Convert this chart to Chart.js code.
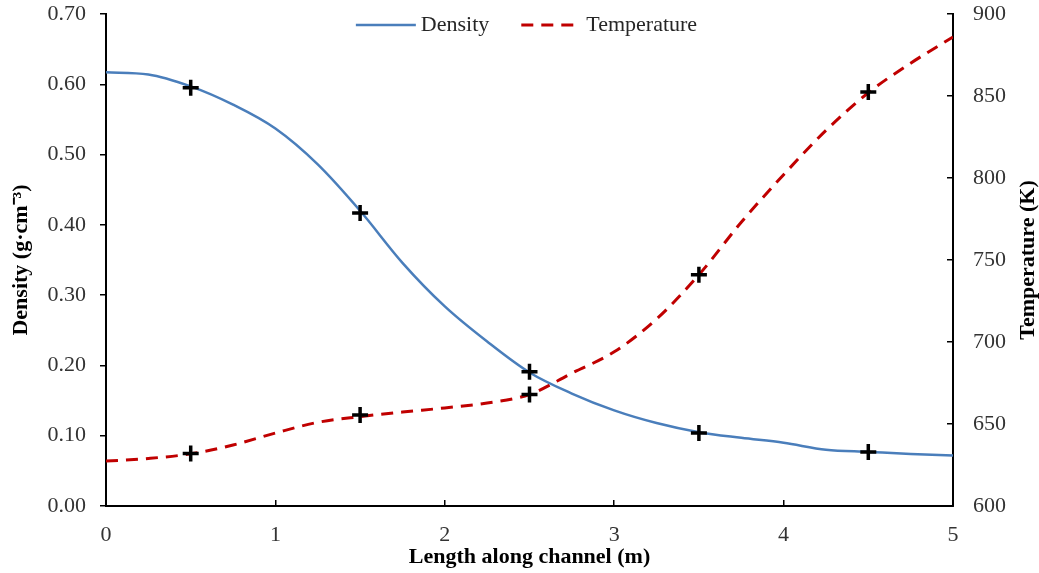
<!DOCTYPE html>
<html>
<head>
<meta charset="utf-8">
<script src="https://cdn.jsdelivr.net/npm/chart.js@4.4.1/dist/chart.umd.min.js"></script>
<style>
  html, body { margin: 0; padding: 0; background: #fff; }
  #wrap { width: 1039px; height: 573px; position: relative; }
</style>
</head>
<body>
<div id="wrap"><canvas id="graph"></canvas></div>
<script>
// curve samples along the channel (m)
const positions = [0, 0.25, 0.5, 0.75, 1, 1.25, 1.5, 1.75, 2, 2.25, 2.5,
                   2.75, 3, 3.25, 3.5, 3.75, 4, 4.25, 4.5, 4.75, 5];
const density = [0.617, 0.614, 0.597, 0.571, 0.537, 0.486, 0.420, 0.346, 0.284, 0.234, 0.190,
                 0.160, 0.136, 0.118, 0.105, 0.097, 0.090, 0.080, 0.077, 0.074, 0.072];
const temperature = [627.4, 629, 631.8, 637.2, 644.5, 651, 654.5, 657.3, 659.8, 662.8, 668,
                     681, 694, 714, 741, 773, 802, 829, 852, 870, 886];

// measured points (plus markers)
const markerX = [0.5, 1.5, 2.5, 3.5, 4.5];
const densityMarkers = [0.595, 0.417, 0.191, 0.104, 0.077];
const temperatureMarkers = [632, 655.5, 668, 741, 852.5];

const xTicks = [0, 1, 2, 3, 4, 5];
const densityTicks = [0, 0.1, 0.2, 0.3, 0.4, 0.5, 0.6, 0.7];
const temperatureTicks = [600, 650, 700, 750, 800, 850, 900];

const xTitle = 'Length along channel (m)';
const densityTitle = 'Density (g·cm⁻³)';
const temperatureTitle = 'Temperature (K)';

const FONT = "'Liberation Serif', 'Times New Roman', serif";
Chart.defaults.font.family = FONT;
Chart.defaults.font.size = 22;
Chart.defaults.color = '#333';

const toPoints = (xs, ys) => xs.map((x, i) => ({ x: x, y: ys[i] }));

// legend drawn inside the plot, lines + labels like the original
const lineLegend = {
    id: 'lineLegend',
    afterDraw(chart) {
        const ctx = chart.ctx;
        const area = chart.chartArea;
        const items = chart.data.datasets.filter(d => d.inLegend);
        const lineLen = 60, gap = 5, spacing = 32, y = area.top + 11;
        ctx.save();
        ctx.font = '22px ' + FONT;
        const widths = items.map(d => lineLen + gap + ctx.measureText(d.label).width);
        const total = widths.reduce((a, b) => a + b, 0) + spacing * (items.length - 1);
        let x = (area.left + area.right) / 2 - total / 2 - 3;
        items.forEach((d, i) => {
            ctx.beginPath();
            ctx.strokeStyle = d.borderColor;
            ctx.lineWidth = d.borderWidth;
            ctx.setLineDash(d.borderDash || []);
            ctx.moveTo(x, y);
            ctx.lineTo(x + lineLen, y);
            ctx.stroke();
            ctx.setLineDash([]);
            ctx.fillStyle = '#262626';
            ctx.textBaseline = 'middle';
            ctx.textAlign = 'left';
            ctx.fillText(d.label, x + lineLen + gap, y);
            x += widths[i] + spacing;
        });
        ctx.restore();
    }
};

// right axis title reads bottom-to-top, as on the left
const rightTitle = {
    id: 'rightTitle',
    afterDraw(chart) {
        const s = chart.scales.y2;
        const ctx = chart.ctx;
        ctx.save();
        ctx.translate(s.right - 11, (s.top + s.bottom) / 2);
        ctx.rotate(-Math.PI / 2);
        ctx.font = 'bold 22px ' + FONT;
        ctx.fillStyle = '#000';
        ctx.textAlign = 'center';
        ctx.textBaseline = 'middle';
        ctx.fillText(temperatureTitle, 0, 0);
        ctx.restore();
    }
};

const setTicks = (list) => (scale) => { scale.ticks = list.map(v => ({ value: v })); };
const fitWidth = (w) => (s) => { s.width = w; s.paddingTop = 0; s.paddingBottom = 0; };

const config = {
    type: 'scatter',
    data: {
        datasets: [
            {
                label: 'Density points',
                data: toPoints(markerX, densityMarkers),
                yAxisID: 'y',
                showLine: false,
                pointStyle: 'cross',
                pointRadius: 8,
                pointBorderWidth: 3.5,
                borderColor: '#000',
                backgroundColor: '#000',
                order: 0
            },
            {
                label: 'Temperature points',
                data: toPoints(markerX, temperatureMarkers),
                yAxisID: 'y2',
                showLine: false,
                pointStyle: 'cross',
                pointRadius: 8,
                pointBorderWidth: 3.5,
                borderColor: '#000',
                backgroundColor: '#000',
                order: 0
            },
            {
                label: 'Density',
                inLegend: true,
                data: toPoints(positions, density),
                yAxisID: 'y',
                showLine: true,
                borderColor: '#4a7ebb',
                borderWidth: 2.5,
                pointRadius: 0,
                cubicInterpolationMode: 'monotone',
                order: 1
            },
            {
                label: 'Temperature',
                inLegend: true,
                data: toPoints(positions, temperature),
                yAxisID: 'y2',
                showLine: true,
                borderColor: '#c00000',
                borderWidth: 3,
                borderDash: [12, 8],
                pointRadius: 0,
                cubicInterpolationMode: 'monotone',
                order: 1
            }
        ]
    },
    options: {
        responsive: true,
        maintainAspectRatio: false,
        animation: false,
        layout: { padding: { top: 14, left: 0, right: 0, bottom: 0 } },
        plugins: {
            legend: { display: false },
            tooltip: { enabled: false }
        },
        scales: {
            x: {
                type: 'linear',
                min: 0,
                max: 5,
                afterBuildTicks: setTicks(xTicks),
                afterFit: (s) => { s.height = 67; s.paddingLeft = 0; s.paddingRight = 0; },
                border: { color: '#000', width: 2 },
                grid: { drawOnChartArea: false, tickLength: -6, color: '#000', lineWidth: 1.5 },
                ticks: { padding: 22, color: '#333', callback: (v) => v },
                title: {
                    display: true,
                    text: xTitle,
                    color: '#000',
                    font: { size: 22, weight: 'bold' },
                    padding: { top: 0, bottom: 2 }
                }
            },
            y: {
                position: 'left',
                min: 0,
                max: 0.7,
                afterBuildTicks: setTicks(densityTicks),
                afterFit: fitWidth(106),
                border: { color: '#000', width: 2 },
                grid: { drawOnChartArea: false, tickLength: 6, color: '#000', lineWidth: 1.5 },
                ticks: { padding: 14, color: '#333', callback: (v) => v.toFixed(2) },
                title: {
                    display: true,
                    text: densityTitle,
                    color: '#000',
                    font: { size: 22, weight: 'bold' },
                    padding: { top: 8, bottom: 0 }
                }
            },
            y2: {
                position: 'right',
                min: 600,
                max: 900,
                afterBuildTicks: setTicks(temperatureTicks),
                afterFit: fitWidth(86),
                border: { color: '#000', width: 2 },
                grid: { drawOnChartArea: false, tickLength: -6, color: '#000', lineWidth: 1.5 },
                ticks: { padding: 26, color: '#333', callback: (v) => v }
            }
        }
    },
    plugins: [lineLegend, rightTitle]
};

new Chart(document.getElementById('graph'), config);
</script>
</body>
</html>
